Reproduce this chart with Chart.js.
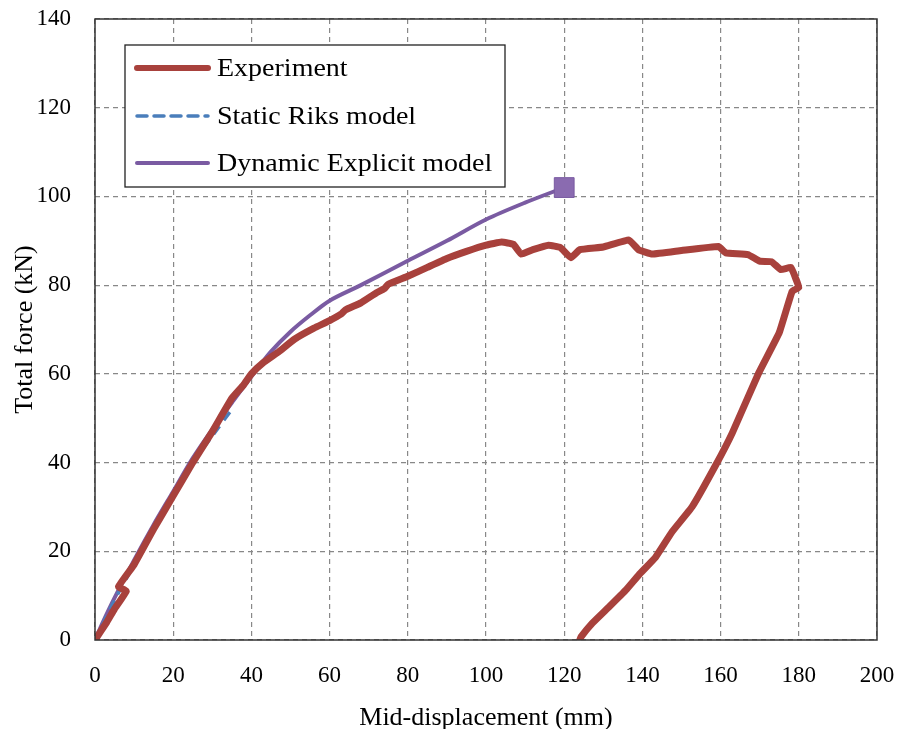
<!DOCTYPE html>
<html>
<head>
<meta charset="utf-8">
<script src="https://cdn.jsdelivr.net/npm/chart.js@4.4.1/dist/chart.umd.min.js"></script>
<style>
  html, body { margin: 0; padding: 0; background: #fff; }
  #wrap { width: 902px; height: 729px; }
</style>
</head>
<body>
<div id="wrap"><canvas id="chart" width="902" height="729"></canvas></div>
<script>
// experiment (loading + unloading)
const expX = [0, 3, 5, 8, 6, 10, 15, 20, 25, 30, 35, 38, 40, 43, 47, 51, 56, 60, 63, 64, 68, 72, 74, 75, 80, 85, 90, 95, 100, 104, 107, 109, 112, 116, 119, 121.7, 124, 130, 136.5, 139, 142.5, 150, 159.5, 161.3, 167, 170, 173, 175.4, 178, 179.3, 180, 178.3, 175, 169.8, 163, 158.8, 152.7, 147.6, 143.4, 139.1, 135.8, 131.5, 127.2, 124.3, 124];
const expY = [0, 4, 7, 11, 12, 17, 25, 32.5, 40, 47, 54.5, 57.5, 60, 62.5, 65, 67.8, 70.3, 72, 73.5, 74.4, 76, 78.3, 79.2, 80.2, 82, 84, 86, 87.6, 89, 89.7, 89.2, 87, 88, 89, 88.5, 86.2, 88, 88.6, 90.2, 88, 87, 87.8, 88.7, 87.3, 86.9, 85.4, 85.3, 83.5, 84, 81.3, 79.5, 78.6, 69.3, 60.3, 46.7, 39.5, 30, 24.4, 18.7, 14.7, 11.3, 7.5, 3.8, 0.7, 0];

// static Riks model
const riksX = [0, 5, 10, 15, 20, 25, 30, 35];
const riksY = [0, 9, 17, 25, 32.5, 40, 46, 52];

// dynamic explicit model
const dynX = [0, 2, 5, 10, 15, 20, 25, 30, 35, 40, 45, 50, 55, 60, 68, 80, 90, 100, 110, 120];
const dynY = [0, 4, 9.5, 18, 26, 33.5, 41, 47.5, 53.5, 59.4, 65, 69.5, 73.2, 76.5, 80, 85.5, 90, 94.8, 98.6, 102];

const xTicks = [0, 20, 40, 60, 80, 100, 120, 140, 160, 180, 200];
const yTicks = [0, 20, 40, 60, 80, 100, 120, 140];

const pts = (xs, ys) => xs.map((x, i) => ({ x: x, y: ys[i] }));
const serif = "'Liberation Serif', 'DejaVu Serif', serif";

// frame round the plot and the boxed legend
const framePlugin = {
  id: "frame",
  afterDraw(chart) {
    const ctx = chart.ctx;
    const a = chart.chartArea;
    ctx.save();
    ctx.strokeStyle = "#333";
    ctx.lineWidth = 1.5;
    ctx.strokeRect(a.left, a.top, a.right - a.left, a.bottom - a.top);

    const bx = 125, by = 45, bw = 380, bh = 142;
    ctx.fillStyle = "#fff";
    ctx.fillRect(bx, by, bw, bh);
    ctx.strokeStyle = "#222";
    ctx.lineWidth = 1.3;
    ctx.strokeRect(bx, by, bw, bh);

    const rows = [68, 116, 163];
    chart.data.datasets.forEach((ds, i) => {
      const y = rows[i];
      ctx.beginPath();
      ctx.strokeStyle = ds.borderColor;
      ctx.lineWidth = Math.min(ds.borderWidth, 6);
      ctx.lineCap = "round";
      ctx.setLineDash(ds.borderDash || []);
      ctx.moveTo(137, y);
      ctx.lineTo(208, y);
      ctx.stroke();
      ctx.setLineDash([]);
      ctx.fillStyle = "#000";
      ctx.font = "25px " + serif;
      ctx.textBaseline = "middle";
      // the source text is a bit wider than the font
      ctx.save();
      ctx.translate(217, y + 1);
      ctx.scale(1.12, 1);
      ctx.fillText(ds.label, 0, 0);
      ctx.restore();
    });
    ctx.restore();
  },
};

new Chart(document.getElementById("chart"), {
  type: "scatter",
  data: {
    datasets: [
      {
        label: "Experiment",
        data: pts(expX, expY),
        showLine: true,
        borderColor: "#A8413C",
        borderWidth: 7,
        pointRadius: 0,
        tension: 0.1,
        borderJoinStyle: "round",
        borderCapStyle: "round",
      },
      {
        label: "Static Riks model",
        data: pts(riksX, riksY),
        showLine: true,
        borderColor: "#4A7EBB",
        borderWidth: 3.5,
        borderDash: [10, 7],
        pointRadius: 0,
        tension: 0.3,
      },
      {
        label: "Dynamic Explicit model",
        data: pts(dynX, dynY),
        showLine: true,
        borderColor: "#7A5BA2",
        backgroundColor: "#8A6BB0",
        borderWidth: 4,
        pointStyle: "rect",
        pointRadius: dynX.map((x, i) => (i === dynX.length - 1 ? 14 : 0)),
        pointBorderWidth: 1,
        tension: 0.3,
      },
    ],
  },
  options: {
    responsive: false,
    animation: false,
    layout: { padding: { top: 19, right: 25, left: 0, bottom: 0 } },
    plugins: { legend: { display: false }, tooltip: { enabled: false } },
    scales: {
      x: {
        type: "linear",
        min: 0,
        max: 200,
        afterBuildTicks: (s) => { s.ticks = xTicks.map((v) => ({ value: v })); },
        afterFit: (s) => {
          s.height = 89;
          s.paddingLeft = 0;
          s.paddingRight = 0;
        },
        grid: { color: "#888", lineWidth: 1.2, tickLength: 0, drawTicks: false },
        border: { display: false, dash: [5, 4] },
        ticks: { color: "#000", padding: 22, font: { family: serif, size: 23 } },
        title: {
          display: true,
          text: "Mid-displacement (mm)",
          color: "#000",
          font: { family: serif, size: 26 },
          padding: { top: 14, bottom: -5 },
        },
      },
      y: {
        type: "linear",
        min: 0,
        max: 140,
        afterBuildTicks: (s) => { s.ticks = yTicks.map((v) => ({ value: v })); },
        afterFit: (s) => {
          s.width = 95;
          s.paddingTop = 0;
          s.paddingBottom = 0;
        },
        grid: { color: "#888", lineWidth: 1.2, tickLength: 0, drawTicks: false },
        border: { display: false, dash: [5, 4] },
        ticks: { color: "#000", padding: 24, font: { family: serif, size: 23 } },
        title: {
          display: true,
          text: "Total force (kN)",
          color: "#000",
          font: { family: serif, size: 26 },
          padding: { bottom: 0, top: 10 },
        },
      },
    },
  },
  plugins: [framePlugin],
});
</script>
</body>
</html>
